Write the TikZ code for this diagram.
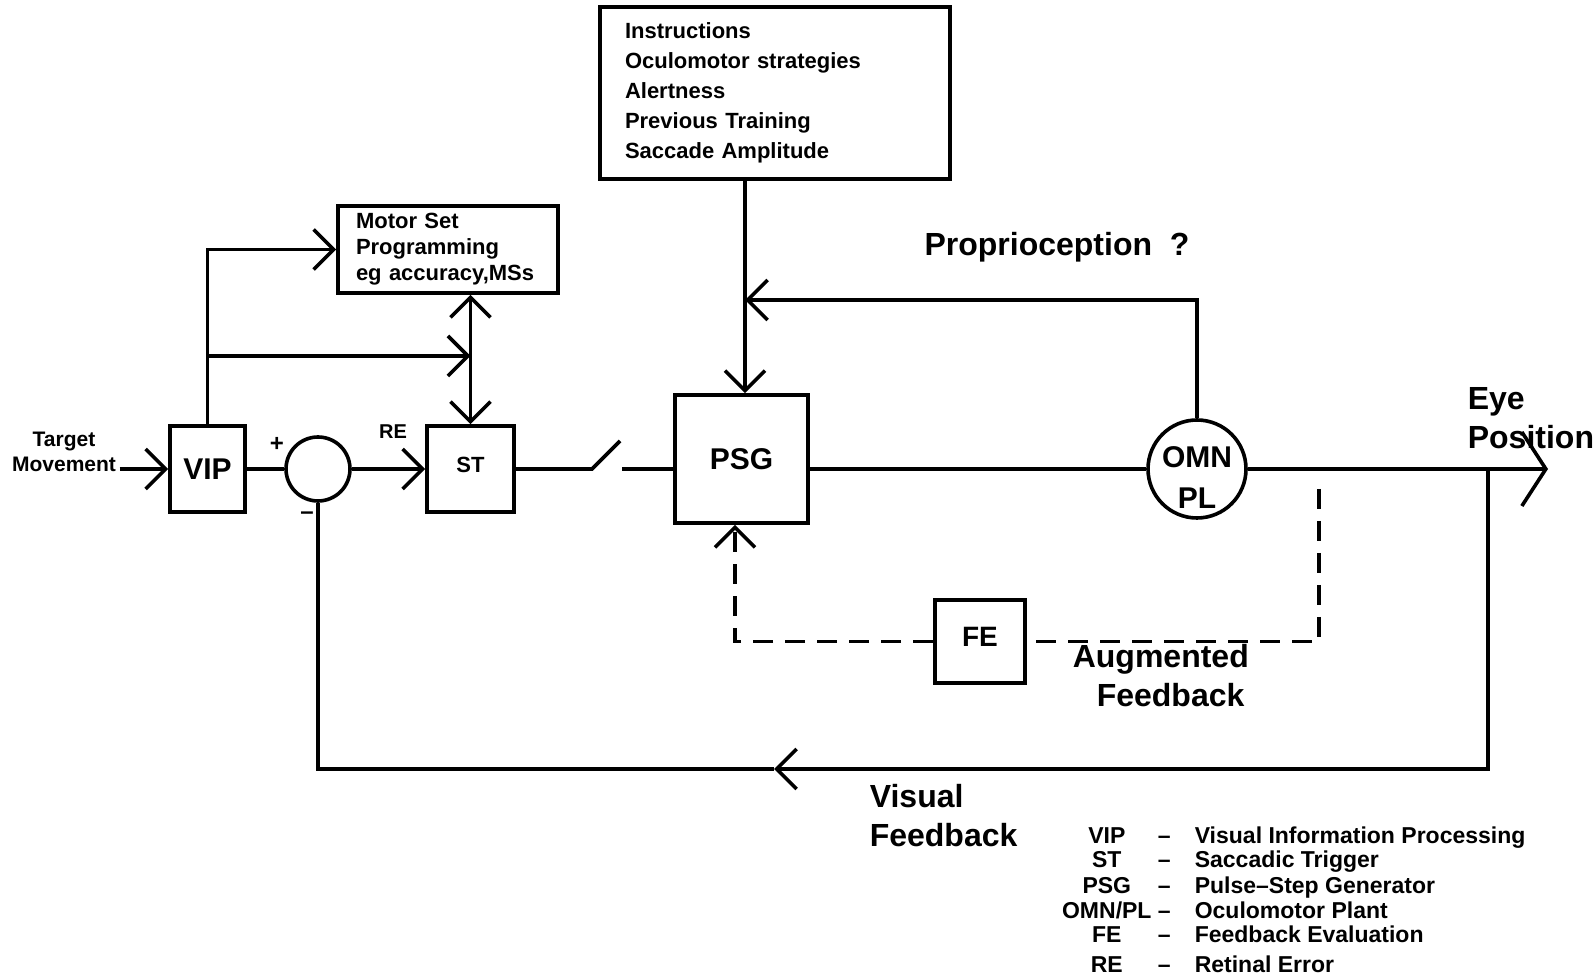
\documentclass[tikz,border=0pt]{standalone}
\usepackage{fontspec}
\setmainfont{Liberation Sans}
\usetikzlibrary{arrows.meta,positioning,calc}

\begin{document}
\begin{tikzpicture}[x=0.5pt, y=-0.5pt,
  line width=1.8pt,
  blk/.style={draw, line width=1.8pt, inner sep=0pt,
              font=\fontsize{15}{18}\selectfont\bfseries},
  txtbox/.style={draw, line width=1.8pt, align=left,
                 font=\fontsize{11}{15}\selectfont\bfseries},
  lbl/.style={align=left, inner sep=0pt, font=\fontsize{16}{19.5}\selectfont\bfseries},
  small/.style={align=center, inner sep=1pt, font=\fontsize{10.5}{12.5}\selectfont\bfseries},
  arr/.style={-{Straight Barb[length=10pt,width=20pt]}},
  arrboth/.style={{Straight Barb[length=10pt,width=20pt]}-{Straight Barb[length=10pt,width=20pt]}},
  fbdash/.style={dash pattern=on 10pt off 6pt}
]
  \useasboundingbox (0,0) rectangle (1596,977);

  % blocks
  \node[txtbox, minimum width=175pt, minimum height=86pt, text width=150pt, inner xsep=12.5pt]
    (instr) at (775,93) {Instructions\\Oculomotor strategies\\Alertness\\Previous Training\\Saccade Amplitude};
  \node[txtbox, font=\fontsize{11}{13}\selectfont\bfseries, minimum width=110pt, minimum height=43.5pt,
        text width=92pt, inner xsep=9pt] (motor) at (448,249.5) {Motor Set\\Programming\\eg accuracy,MSs};
  \node[blk, minimum width=37.5pt, minimum height=43pt] (vip) at (207.5,469) {VIP};
  \node[draw, circle, minimum size=32pt, inner sep=0pt] (sum) at (318,469) {};
  \node[blk, minimum width=43.5pt, minimum height=43pt, font=\fontsize{11}{13}\selectfont\bfseries]
    (st) at (470.5,469) {\raisebox{4.5pt}{ST}};
  \node[blk, minimum width=66.5pt, minimum height=64pt] (psg) at (741.5,459) {PSG};
  \node[draw, circle, minimum size=49pt, inner sep=0pt,
        font=\fontsize{15}{20.5}\selectfont\bfseries] (omn) at (1197,469)
    {\smash{\raisebox{-9pt}{\begin{tabular}{@{}c@{}}OMN\\PL\end{tabular}}}};
  \node[blk, minimum width=45pt, minimum height=41.5pt, font=\fontsize{14}{16}\selectfont\bfseries]
    (fe) at (980,641.5) {\raisebox{5pt}{FE}};

  % labels
  \node[small] (target) at (64,452) {Target\\Movement};
  \node[small, font=\fontsize{10}{12}\selectfont\bfseries] (re) at (393,432) {RE};
  \node[font=\fontsize{12}{14}\selectfont\bfseries, inner sep=0pt] (plus) at (277,444) {+};
  \node[font=\fontsize{12}{14}\selectfont\bfseries, inner sep=0pt] (minus) at (307,516) {--};
  \node[lbl, anchor=west] (eye) at (1466,418.5) {Eye\\Position};
  \node[lbl] (prop) at (1057,247) {Proprioception\ \ ?};
  \node[lbl, anchor=west] (aug) at (1071,676) {Augmented\\\hspace*{12pt}Feedback};
  \node[lbl, anchor=west] (vis) at (868,815.5) {Visual\\Feedback};

  % legend
  \node[anchor=base west, inner sep=0pt, font=\fontsize{11.5}{12.5}\selectfont\bfseries] (legend) at (1060,843) {%
    \begin{tabular}[t]{@{}c@{}c@{\hspace{9pt}}l@{}}
      \makebox[45pt]{VIP} & \makebox[12.5pt]{--} & Visual Information Processing\\
      ST & -- & Saccadic Trigger\\
      PSG & -- & Pulse--Step Generator\\
      OMN/PL & -- & Oculomotor Plant\\
      FE & -- & Feedback Evaluation\\[2.5pt]
      RE & -- & Retinal Error
    \end{tabular}};

  % points on the lines
  \coordinate (br) at (207.5,356);
  \coordinate (swa) at (592,469);
  \coordinate (swb) at (620,441);
  \coordinate (swc) at (622,469);
  \coordinate (eyept) at (1548,469);
  \coordinate (psgin) at ([xshift=1.75pt]psg.north);
  \coordinate (psgfb) at ([xshift=-3.25pt]psg.south);
  \coordinate (pj) at (psgin |- 0,300);
  \coordinate (vtap) at (1488,469);
  \coordinate (vmid) at (774,769);
  \coordinate (aftap) at (1319,489);

  % forward path
  \draw[arr] (target.east |- vip.west) -- (vip.west);
  \draw (vip.east) -- (sum.west);
  \draw[arr] (sum.east) -- (st.west);
  \draw[arr] (vip.north) |- (motor.west);
  \draw[arr] (br) -- (br -| st.north);
  \draw[arrboth] (st.north |- motor.south) -- (st.north);
  \draw (st.east) -- (swa) -- (swb);
  \draw (swc) -- (swc -| psg.west);
  \draw (psg.east |- omn.west) -- (omn.west);
  \draw[-{Straight Barb[length=12pt,width=37pt]}] (omn.east) -- (eyept);
  \draw[arr] (instr.south -| psgin) -- (psgin);

  % feedback loops
  \draw[arr] (omn.north) |- (pj);
  \draw[arr] (vtap) |- (vmid);
  \draw (vmid) -| (sum.south);
  \draw[fbdash] (aftap) |- (fe.east);
  \draw[fbdash, arr] (fe.west) -| (psgfb);
\end{tikzpicture}
\end{document}
